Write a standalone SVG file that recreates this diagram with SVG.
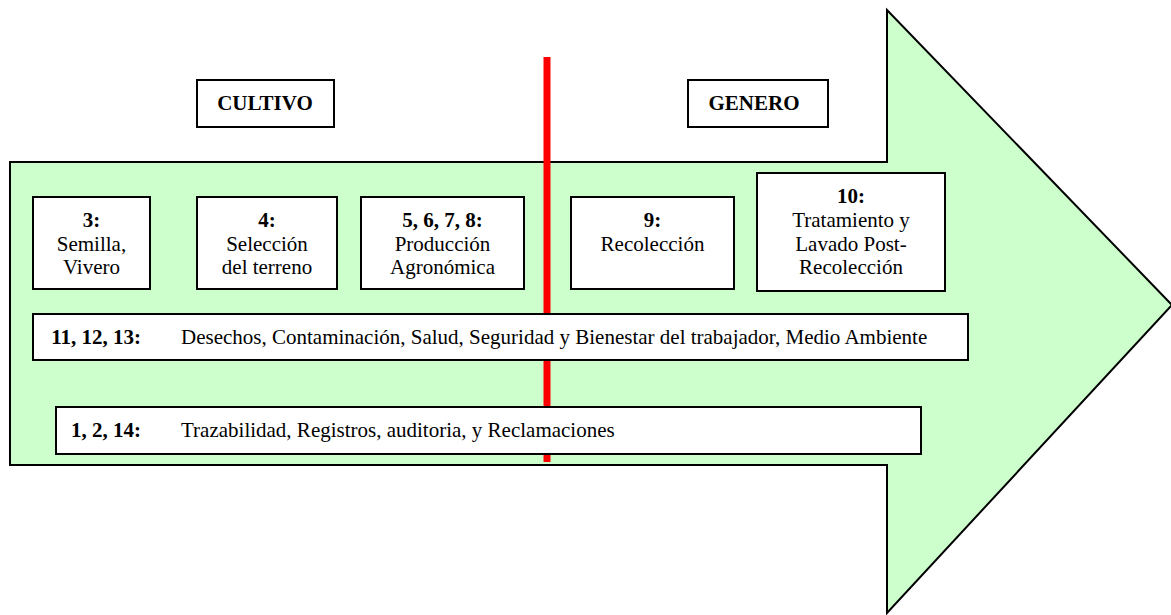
<svg xmlns="http://www.w3.org/2000/svg" width="1171" height="615" viewBox="0 0 1171 615">
<style>
.box{fill:#ffffff;stroke:#000000;stroke-width:2}
.t{font-family:"Liberation Serif","Times New Roman",serif;font-size:21px;fill:#000000}
.c{text-anchor:middle}
.b{font-weight:bold}
</style>
<rect x="0" y="0" width="1171" height="615" fill="#ffffff"/>
<g id="arrow">
<polygon points="10,162 887,162 887,10 1172,305 887,613 887,465 10,465" fill="#ccffcc" stroke="#000000" stroke-width="2"/>
</g>
<g id="connectors">
<line x1="547" y1="57" x2="547" y2="462" stroke="#ff0000" stroke-width="7"/>
</g>
<g id="cultivo">
<rect class="box" x="197" y="80" width="137" height="47"/>
<text class="t b c" x="265" y="110">CULTIVO</text>
</g>
<g id="genero">
<rect class="box" x="688" y="80" width="140" height="47"/>
<text class="t b c" x="754" y="110">GENERO</text>
</g>
<g id="n3">
<rect class="box" x="33" y="197" width="117" height="92"/>
<text class="t c" x="91.5" y="227"><tspan class="b">3:</tspan><tspan x="91.5" y="250.5">Semilla,</tspan><tspan x="91.5" y="274">Vivero</tspan></text>
</g>
<g id="n4">
<rect class="box" x="197" y="197" width="140" height="92"/>
<text class="t c" x="267" y="227"><tspan class="b">4:</tspan><tspan x="267" y="250.5">Selección</tspan><tspan x="267" y="274">del terreno</tspan></text>
</g>
<g id="n5678">
<rect class="box" x="361" y="197" width="163" height="92"/>
<text class="t c" x="442.5" y="227"><tspan class="b">5, 6, 7, 8:</tspan><tspan x="442.5" y="250.5">Producción</tspan><tspan x="442.5" y="274">Agronómica</tspan></text>
</g>
<g id="n9">
<rect class="box" x="571" y="197" width="163" height="92"/>
<text class="t c" x="652.5" y="227"><tspan class="b">9:</tspan><tspan x="652.5" y="250.5">Recolección</tspan></text>
</g>
<g id="n10">
<rect class="box" x="757" y="173" width="188" height="118"/>
<text class="t c" x="851" y="203"><tspan class="b">10:</tspan><tspan x="851" y="227">Tratamiento y</tspan><tspan x="851" y="250.5">Lavado Post-</tspan><tspan x="851" y="274">Recolección</tspan></text>
</g>
<g id="n111213">
<rect class="box" x="33" y="314" width="935" height="46"/>
<text class="t b" x="141" y="344" text-anchor="end">11, 12, 13:</text>
<text class="t" x="181" y="344">Desechos, Contaminación, Salud, Seguridad y Bienestar del trabajador, Medio Ambiente</text>
</g>
<g id="n1214">
<rect class="box" x="56" y="407" width="865" height="47"/>
<text class="t b" x="141" y="437" text-anchor="end">1, 2, 14:</text>
<text class="t" x="181" y="437">Trazabilidad, Registros, auditoria, y Reclamaciones</text>
</g>
</svg>
